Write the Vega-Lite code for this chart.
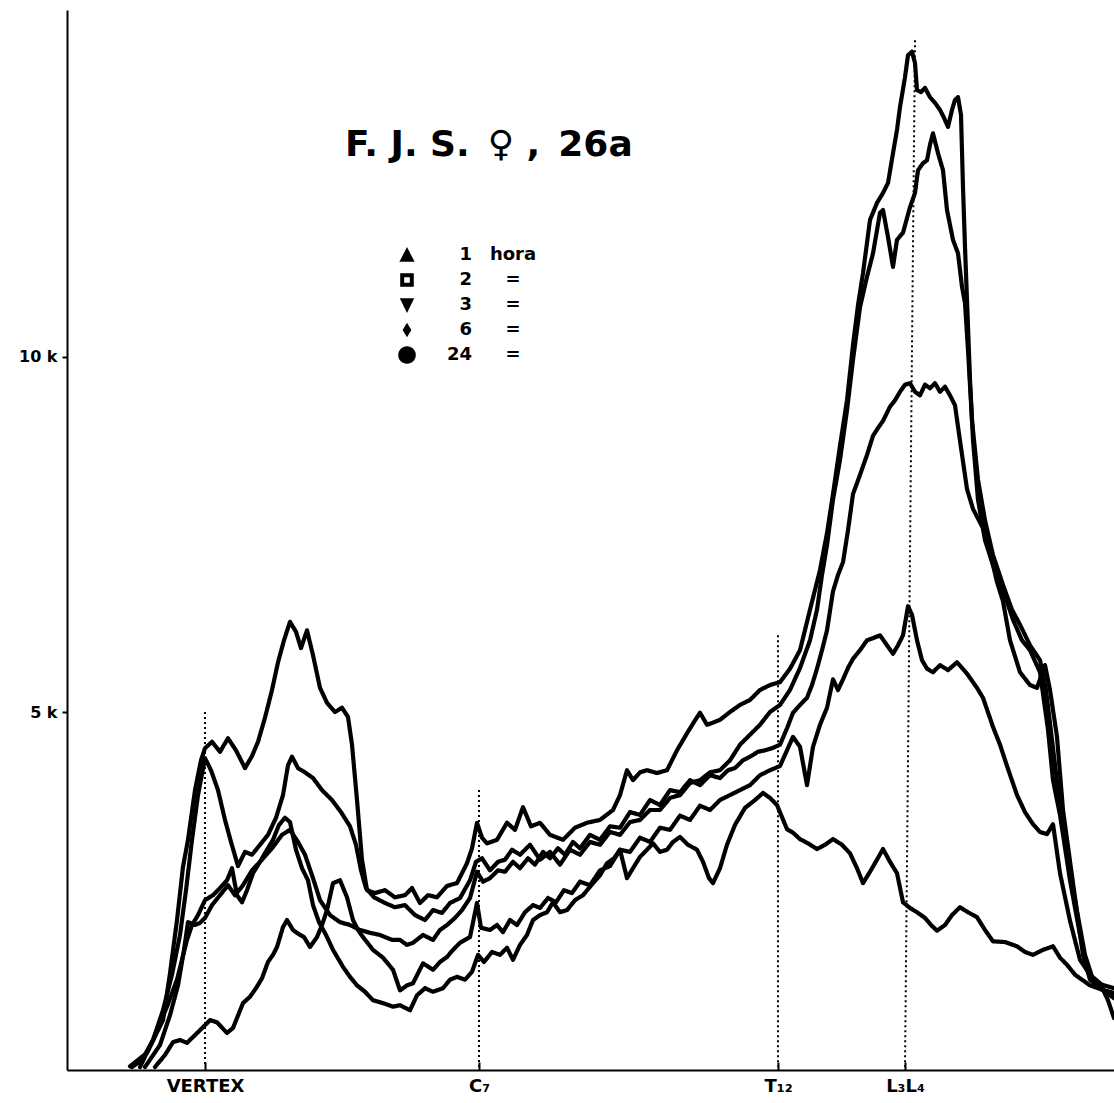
{
  "$schema": "https://vega.github.io/schema/vega-lite/v6.json",
  "width": 1047,
  "height": 1060,
  "autosize": {"type": "none"},
  "padding": {"left": 67, "top": 10, "right": 0, "bottom": 33},
  "background": "white",
  "config": {"view": {"stroke": null}, "font": "DejaVu Sans"},
  "datasets": {
    "perfiles": [
      {"hora":"6","pos":63,"k":0.01},{"hora":"6","pos":80,"k":0.20},{"hora":"6","pos":96,"k":0.66},{"hora":"6","pos":103,"k":1.32},{"hora":"6","pos":110,"k":2.07},{"hora":"6","pos":116,"k":2.82},{"hora":"6","pos":121,"k":3.20},{"hora":"6","pos":128,"k":3.90},{"hora":"6","pos":134,"k":4.32},{"hora":"6","pos":138,"k":4.49},{"hora":"6","pos":145,"k":4.58},{"hora":"6","pos":153,"k":4.44},{"hora":"6","pos":161,"k":4.63},{"hora":"6","pos":169,"k":4.46},{"hora":"6","pos":178,"k":4.21},{"hora":"6","pos":185,"k":4.38},{"hora":"6","pos":191,"k":4.58},{"hora":"6","pos":198,"k":4.92},{"hora":"6","pos":205,"k":5.31},{"hora":"6","pos":211,"k":5.70},{"hora":"6","pos":217,"k":6.01},{"hora":"6","pos":223,"k":6.27},{"hora":"6","pos":229,"k":6.13},{"hora":"6","pos":234,"k":5.90},{"hora":"6","pos":240,"k":6.15},{"hora":"6","pos":246,"k":5.80},{"hora":"6","pos":253,"k":5.34},{"hora":"6","pos":260,"k":5.13},{"hora":"6","pos":268,"k":5.00},{"hora":"6","pos":275,"k":5.06},{"hora":"6","pos":281,"k":4.93},{"hora":"6","pos":285,"k":4.54},{"hora":"6","pos":290,"k":3.76},{"hora":"6","pos":295,"k":2.92},{"hora":"6","pos":300,"k":2.49},{"hora":"6","pos":308,"k":2.45},{"hora":"6","pos":318,"k":2.49},{"hora":"6","pos":328,"k":2.39},{"hora":"6","pos":338,"k":2.42},{"hora":"6","pos":345,"k":2.52},{"hora":"6","pos":353,"k":2.31},{"hora":"6","pos":361,"k":2.42},{"hora":"6","pos":370,"k":2.39},{"hora":"6","pos":380,"k":2.55},{"hora":"6","pos":390,"k":2.59},{"hora":"6","pos":400,"k":2.87},{"hora":"6","pos":405,"k":3.08},{"hora":"6","pos":410,"k":3.44},{"hora":"6","pos":415,"k":3.23},{"hora":"6","pos":420,"k":3.15},{"hora":"6","pos":430,"k":3.20},{"hora":"6","pos":440,"k":3.44},{"hora":"6","pos":448,"k":3.34},{"hora":"6","pos":456,"k":3.66},{"hora":"6","pos":464,"k":3.39},{"hora":"6","pos":473,"k":3.44},{"hora":"6","pos":483,"k":3.27},{"hora":"6","pos":496,"k":3.20},{"hora":"6","pos":508,"k":3.37},{"hora":"6","pos":520,"k":3.44},{"hora":"6","pos":533,"k":3.48},{"hora":"6","pos":546,"k":3.62},{"hora":"6","pos":553,"k":3.83},{"hora":"6","pos":560,"k":4.18},{"hora":"6","pos":566,"k":4.04},{"hora":"6","pos":573,"k":4.15},{"hora":"6","pos":580,"k":4.18},{"hora":"6","pos":590,"k":4.14},{"hora":"6","pos":600,"k":4.18},{"hora":"6","pos":610,"k":4.46},{"hora":"6","pos":620,"k":4.70},{"hora":"6","pos":627,"k":4.86},{"hora":"6","pos":633,"k":4.99},{"hora":"6","pos":640,"k":4.82},{"hora":"6","pos":646,"k":4.85},{"hora":"6","pos":653,"k":4.89},{"hora":"6","pos":663,"k":5.00},{"hora":"6","pos":673,"k":5.10},{"hora":"6","pos":683,"k":5.17},{"hora":"6","pos":693,"k":5.31},{"hora":"6","pos":703,"k":5.38},{"hora":"6","pos":713,"k":5.42},{"hora":"6","pos":723,"k":5.61},{"hora":"6","pos":733,"k":5.87},{"hora":"6","pos":743,"k":6.44},{"hora":"6","pos":753,"k":7.00},{"hora":"6","pos":760,"k":7.52},{"hora":"6","pos":766,"k":8.07},{"hora":"6","pos":773,"k":8.75},{"hora":"6","pos":780,"k":9.39},{"hora":"6","pos":786,"k":10.17},{"hora":"6","pos":791,"k":10.73},{"hora":"6","pos":796,"k":11.18},{"hora":"6","pos":803,"k":11.93},{"hora":"6","pos":810,"k":12.17},{"hora":"6","pos":816,"k":12.31},{"hora":"6","pos":821,"k":12.45},{"hora":"6","pos":826,"k":12.87},{"hora":"6","pos":830,"k":13.20},{"hora":"6","pos":833,"k":13.52},{"hora":"6","pos":838,"k":13.94},{"hora":"6","pos":841,"k":14.25},{"hora":"6","pos":845,"k":14.30},{"hora":"6","pos":848,"k":14.14},{"hora":"6","pos":850,"k":13.76},{"hora":"6","pos":854,"k":13.73},{"hora":"6","pos":858,"k":13.79},{"hora":"6","pos":863,"k":13.66},{"hora":"6","pos":868,"k":13.58},{"hora":"6","pos":873,"k":13.48},{"hora":"6","pos":877,"k":13.37},{"hora":"6","pos":881,"k":13.24},{"hora":"6","pos":885,"k":13.48},{"hora":"6","pos":888,"k":13.62},{"hora":"6","pos":891,"k":13.66},{"hora":"6","pos":894,"k":13.41},{"hora":"6","pos":896,"k":12.39},{"hora":"6","pos":898,"k":11.55},{"hora":"6","pos":900,"k":10.80},{"hora":"6","pos":903,"k":9.68},{"hora":"6","pos":906,"k":8.83},{"hora":"6","pos":911,"k":7.99},{"hora":"6","pos":918,"k":7.42},{"hora":"6","pos":926,"k":7.07},{"hora":"6","pos":936,"k":6.72},{"hora":"6","pos":946,"k":6.30},{"hora":"6","pos":955,"k":6.01},{"hora":"6","pos":963,"k":5.87},{"hora":"6","pos":973,"k":5.56},{"hora":"6","pos":981,"k":4.75},{"hora":"6","pos":986,"k":4.04},{"hora":"6","pos":993,"k":3.55},{"hora":"6","pos":1003,"k":2.63},{"hora":"6","pos":1013,"k":1.86},{"hora":"6","pos":1020,"k":1.37},{"hora":"6","pos":1028,"k":1.20},{"hora":"6","pos":1037,"k":1.15},{"hora":"6","pos":1047,"k":1.11},

      {"hora":"3","pos":65,"k":0.0},{"hora":"3","pos":75,"k":0.10},{"hora":"3","pos":86,"k":0.38},{"hora":"3","pos":96,"k":0.80},{"hora":"3","pos":105,"k":1.30},{"hora":"3","pos":113,"k":1.86},{"hora":"3","pos":119,"k":2.49},{"hora":"3","pos":125,"k":3.20},{"hora":"3","pos":131,"k":3.83},{"hora":"3","pos":138,"k":4.35},{"hora":"3","pos":144,"k":4.18},{"hora":"3","pos":151,"k":3.90},{"hora":"3","pos":158,"k":3.48},{"hora":"3","pos":164,"k":3.17},{"hora":"3","pos":171,"k":2.83},{"hora":"3","pos":178,"k":3.03},{"hora":"3","pos":185,"k":2.99},{"hora":"3","pos":193,"k":3.13},{"hora":"3","pos":201,"k":3.27},{"hora":"3","pos":209,"k":3.51},{"hora":"3","pos":216,"k":3.83},{"hora":"3","pos":221,"k":4.25},{"hora":"3","pos":225,"k":4.37},{"hora":"3","pos":231,"k":4.21},{"hora":"3","pos":238,"k":4.15},{"hora":"3","pos":246,"k":4.07},{"hora":"3","pos":255,"k":3.90},{"hora":"3","pos":265,"k":3.76},{"hora":"3","pos":274,"k":3.59},{"hora":"3","pos":283,"k":3.39},{"hora":"3","pos":289,"k":3.13},{"hora":"3","pos":294,"k":2.77},{"hora":"3","pos":299,"k":2.52},{"hora":"3","pos":307,"k":2.39},{"hora":"3","pos":318,"k":2.31},{"hora":"3","pos":328,"k":2.25},{"hora":"3","pos":338,"k":2.28},{"hora":"3","pos":348,"k":2.14},{"hora":"3","pos":358,"k":2.07},{"hora":"3","pos":366,"k":2.21},{"hora":"3","pos":375,"k":2.17},{"hora":"3","pos":383,"k":2.31},{"hora":"3","pos":393,"k":2.38},{"hora":"3","pos":403,"k":2.63},{"hora":"3","pos":409,"k":2.89},{"hora":"3","pos":415,"k":2.94},{"hora":"3","pos":423,"k":2.77},{"hora":"3","pos":431,"k":2.89},{"hora":"3","pos":438,"k":2.92},{"hora":"3","pos":445,"k":3.06},{"hora":"3","pos":453,"k":2.99},{"hora":"3","pos":463,"k":3.13},{"hora":"3","pos":473,"k":2.92},{"hora":"3","pos":483,"k":3.03},{"hora":"3","pos":493,"k":2.85},{"hora":"3","pos":503,"k":3.06},{"hora":"3","pos":513,"k":2.99},{"hora":"3","pos":523,"k":3.17},{"hora":"3","pos":533,"k":3.13},{"hora":"3","pos":543,"k":3.31},{"hora":"3","pos":553,"k":3.27},{"hora":"3","pos":563,"k":3.45},{"hora":"3","pos":573,"k":3.48},{"hora":"3","pos":583,"k":3.62},{"hora":"3","pos":593,"k":3.62},{"hora":"3","pos":603,"k":3.79},{"hora":"3","pos":613,"k":3.83},{"hora":"3","pos":623,"k":4.00},{"hora":"3","pos":633,"k":4.04},{"hora":"3","pos":643,"k":4.15},{"hora":"3","pos":653,"k":4.18},{"hora":"3","pos":663,"k":4.32},{"hora":"3","pos":673,"k":4.54},{"hora":"3","pos":683,"k":4.68},{"hora":"3","pos":693,"k":4.82},{"hora":"3","pos":703,"k":5.00},{"hora":"3","pos":713,"k":5.10},{"hora":"3","pos":723,"k":5.31},{"hora":"3","pos":733,"k":5.62},{"hora":"3","pos":743,"k":6.01},{"hora":"3","pos":750,"k":6.44},{"hora":"3","pos":755,"k":6.93},{"hora":"3","pos":760,"k":7.35},{"hora":"3","pos":766,"k":7.99},{"hora":"3","pos":773,"k":8.55},{"hora":"3","pos":780,"k":9.25},{"hora":"3","pos":786,"k":9.96},{"hora":"3","pos":793,"k":10.70},{"hora":"3","pos":800,"k":11.13},{"hora":"3","pos":806,"k":11.46},{"hora":"3","pos":813,"k":12.03},{"hora":"3","pos":816,"k":12.07},{"hora":"3","pos":821,"k":11.69},{"hora":"3","pos":826,"k":11.27},{"hora":"3","pos":830,"k":11.65},{"hora":"3","pos":836,"k":11.75},{"hora":"3","pos":843,"k":12.11},{"hora":"3","pos":848,"k":12.31},{"hora":"3","pos":851,"k":12.63},{"hora":"3","pos":856,"k":12.73},{"hora":"3","pos":860,"k":12.77},{"hora":"3","pos":863,"k":12.99},{"hora":"3","pos":866,"k":13.15},{"hora":"3","pos":871,"k":12.87},{"hora":"3","pos":876,"k":12.63},{"hora":"3","pos":880,"k":12.07},{"hora":"3","pos":886,"k":11.65},{"hora":"3","pos":891,"k":11.46},{"hora":"3","pos":895,"k":10.99},{"hora":"3","pos":898,"k":10.76},{"hora":"3","pos":901,"k":10.10},{"hora":"3","pos":905,"k":9.11},{"hora":"3","pos":911,"k":8.27},{"hora":"3","pos":918,"k":7.70},{"hora":"3","pos":926,"k":7.21},{"hora":"3","pos":936,"k":6.79},{"hora":"3","pos":945,"k":6.44},{"hora":"3","pos":953,"k":6.23},{"hora":"3","pos":963,"k":5.94},{"hora":"3","pos":973,"k":5.73},{"hora":"3","pos":979,"k":5.31},{"hora":"3","pos":985,"k":4.61},{"hora":"3","pos":991,"k":3.90},{"hora":"3","pos":998,"k":3.20},{"hora":"3","pos":1008,"k":2.35},{"hora":"3","pos":1018,"k":1.58},{"hora":"3","pos":1026,"k":1.23},{"hora":"3","pos":1037,"k":1.08},{"hora":"3","pos":1047,"k":1.04},

      {"hora":"2","pos":78,"k":0.0},{"hora":"2","pos":93,"k":0.31},{"hora":"2","pos":103,"k":0.73},{"hora":"2","pos":111,"k":1.15},{"hora":"2","pos":117,"k":1.65},{"hora":"2","pos":121,"k":2.04},{"hora":"2","pos":128,"k":2.00},{"hora":"2","pos":133,"k":2.03},{"hora":"2","pos":138,"k":2.10},{"hora":"2","pos":145,"k":2.28},{"hora":"2","pos":153,"k":2.42},{"hora":"2","pos":161,"k":2.56},{"hora":"2","pos":168,"k":2.42},{"hora":"2","pos":176,"k":2.56},{"hora":"2","pos":185,"k":2.77},{"hora":"2","pos":195,"k":2.92},{"hora":"2","pos":205,"k":3.08},{"hora":"2","pos":215,"k":3.27},{"hora":"2","pos":223,"k":3.34},{"hora":"2","pos":231,"k":3.17},{"hora":"2","pos":238,"k":2.99},{"hora":"2","pos":246,"k":2.66},{"hora":"2","pos":253,"k":2.35},{"hora":"2","pos":263,"k":2.14},{"hora":"2","pos":273,"k":2.04},{"hora":"2","pos":283,"k":2.00},{"hora":"2","pos":293,"k":1.93},{"hora":"2","pos":303,"k":1.89},{"hora":"2","pos":313,"k":1.86},{"hora":"2","pos":325,"k":1.79},{"hora":"2","pos":333,"k":1.79},{"hora":"2","pos":340,"k":1.72},{"hora":"2","pos":346,"k":1.75},{"hora":"2","pos":356,"k":1.86},{"hora":"2","pos":366,"k":1.79},{"hora":"2","pos":373,"k":1.93},{"hora":"2","pos":380,"k":2.00},{"hora":"2","pos":388,"k":2.10},{"hora":"2","pos":395,"k":2.21},{"hora":"2","pos":403,"k":2.38},{"hora":"2","pos":410,"k":2.75},{"hora":"2","pos":416,"k":2.61},{"hora":"2","pos":423,"k":2.66},{"hora":"2","pos":431,"k":2.77},{"hora":"2","pos":438,"k":2.75},{"hora":"2","pos":446,"k":2.89},{"hora":"2","pos":453,"k":2.80},{"hora":"2","pos":461,"k":2.94},{"hora":"2","pos":468,"k":2.85},{"hora":"2","pos":476,"k":3.03},{"hora":"2","pos":483,"k":2.94},{"hora":"2","pos":491,"k":3.08},{"hora":"2","pos":498,"k":2.99},{"hora":"2","pos":506,"k":3.17},{"hora":"2","pos":513,"k":3.08},{"hora":"2","pos":523,"k":3.27},{"hora":"2","pos":533,"k":3.20},{"hora":"2","pos":543,"k":3.39},{"hora":"2","pos":553,"k":3.37},{"hora":"2","pos":563,"k":3.59},{"hora":"2","pos":573,"k":3.55},{"hora":"2","pos":583,"k":3.76},{"hora":"2","pos":593,"k":3.69},{"hora":"2","pos":603,"k":3.90},{"hora":"2","pos":613,"k":3.87},{"hora":"2","pos":623,"k":4.04},{"hora":"2","pos":633,"k":3.97},{"hora":"2","pos":643,"k":4.11},{"hora":"2","pos":653,"k":4.07},{"hora":"2","pos":661,"k":4.18},{"hora":"2","pos":668,"k":4.21},{"hora":"2","pos":676,"k":4.32},{"hora":"2","pos":683,"k":4.37},{"hora":"2","pos":691,"k":4.44},{"hora":"2","pos":698,"k":4.46},{"hora":"2","pos":705,"k":4.49},{"hora":"2","pos":713,"k":4.54},{"hora":"2","pos":720,"k":4.77},{"hora":"2","pos":726,"k":4.99},{"hora":"2","pos":733,"k":5.10},{"hora":"2","pos":740,"k":5.20},{"hora":"2","pos":745,"k":5.38},{"hora":"2","pos":750,"k":5.61},{"hora":"2","pos":755,"k":5.87},{"hora":"2","pos":760,"k":6.15},{"hora":"2","pos":766,"k":6.70},{"hora":"2","pos":771,"k":6.93},{"hora":"2","pos":776,"k":7.11},{"hora":"2","pos":781,"k":7.56},{"hora":"2","pos":786,"k":8.07},{"hora":"2","pos":793,"k":8.34},{"hora":"2","pos":800,"k":8.62},{"hora":"2","pos":806,"k":8.89},{"hora":"2","pos":811,"k":9.00},{"hora":"2","pos":816,"k":9.10},{"hora":"2","pos":823,"k":9.30},{"hora":"2","pos":828,"k":9.39},{"hora":"2","pos":833,"k":9.51},{"hora":"2","pos":838,"k":9.61},{"hora":"2","pos":843,"k":9.63},{"hora":"2","pos":848,"k":9.51},{"hora":"2","pos":853,"k":9.46},{"hora":"2","pos":858,"k":9.61},{"hora":"2","pos":863,"k":9.56},{"hora":"2","pos":868,"k":9.63},{"hora":"2","pos":873,"k":9.51},{"hora":"2","pos":878,"k":9.58},{"hora":"2","pos":883,"k":9.46},{"hora":"2","pos":888,"k":9.32},{"hora":"2","pos":893,"k":8.82},{"hora":"2","pos":900,"k":8.14},{"hora":"2","pos":906,"k":7.86},{"hora":"2","pos":916,"k":7.59},{"hora":"2","pos":923,"k":7.25},{"hora":"2","pos":930,"k":6.83},{"hora":"2","pos":936,"k":6.56},{"hora":"2","pos":943,"k":6.01},{"hora":"2","pos":953,"k":5.56},{"hora":"2","pos":963,"k":5.38},{"hora":"2","pos":970,"k":5.34},{"hora":"2","pos":978,"k":5.66},{"hora":"2","pos":983,"k":5.31},{"hora":"2","pos":990,"k":4.65},{"hora":"2","pos":996,"k":3.62},{"hora":"2","pos":1006,"k":2.59},{"hora":"2","pos":1016,"k":1.58},{"hora":"2","pos":1023,"k":1.23},{"hora":"2","pos":1033,"k":1.11},{"hora":"2","pos":1047,"k":0.97},

      {"hora":"1","pos":73,"k":0.0},{"hora":"1","pos":86,"k":0.38},{"hora":"1","pos":100,"k":0.85},{"hora":"1","pos":110,"k":1.23},{"hora":"1","pos":120,"k":1.79},{"hora":"1","pos":125,"k":2.00},{"hora":"1","pos":131,"k":2.14},{"hora":"1","pos":138,"k":2.35},{"hora":"1","pos":146,"k":2.42},{"hora":"1","pos":153,"k":2.52},{"hora":"1","pos":160,"k":2.63},{"hora":"1","pos":165,"k":2.80},{"hora":"1","pos":170,"k":2.42},{"hora":"1","pos":175,"k":2.32},{"hora":"1","pos":180,"k":2.49},{"hora":"1","pos":186,"k":2.73},{"hora":"1","pos":193,"k":2.89},{"hora":"1","pos":200,"k":3.06},{"hora":"1","pos":206,"k":3.20},{"hora":"1","pos":212,"k":3.41},{"hora":"1","pos":218,"k":3.51},{"hora":"1","pos":223,"k":3.45},{"hora":"1","pos":229,"k":3.06},{"hora":"1","pos":235,"k":2.80},{"hora":"1","pos":241,"k":2.63},{"hora":"1","pos":246,"k":2.28},{"hora":"1","pos":252,"k":2.04},{"hora":"1","pos":259,"k":1.86},{"hora":"1","pos":266,"k":1.65},{"hora":"1","pos":276,"k":1.41},{"hora":"1","pos":283,"k":1.27},{"hora":"1","pos":290,"k":1.15},{"hora":"1","pos":298,"k":1.06},{"hora":"1","pos":306,"k":0.94},{"hora":"1","pos":316,"k":0.90},{"hora":"1","pos":326,"k":0.85},{"hora":"1","pos":333,"k":0.87},{"hora":"1","pos":343,"k":0.80},{"hora":"1","pos":350,"k":1.01},{"hora":"1","pos":358,"k":1.11},{"hora":"1","pos":366,"k":1.06},{"hora":"1","pos":376,"k":1.11},{"hora":"1","pos":383,"k":1.23},{"hora":"1","pos":390,"k":1.27},{"hora":"1","pos":398,"k":1.23},{"hora":"1","pos":405,"k":1.34},{"hora":"1","pos":411,"k":1.58},{"hora":"1","pos":417,"k":1.48},{"hora":"1","pos":425,"k":1.62},{"hora":"1","pos":433,"k":1.58},{"hora":"1","pos":440,"k":1.68},{"hora":"1","pos":446,"k":1.51},{"hora":"1","pos":453,"k":1.72},{"hora":"1","pos":460,"k":1.86},{"hora":"1","pos":466,"k":2.07},{"hora":"1","pos":473,"k":2.14},{"hora":"1","pos":480,"k":2.18},{"hora":"1","pos":486,"k":2.32},{"hora":"1","pos":493,"k":2.18},{"hora":"1","pos":500,"k":2.21},{"hora":"1","pos":508,"k":2.35},{"hora":"1","pos":516,"k":2.42},{"hora":"1","pos":526,"k":2.59},{"hora":"1","pos":533,"k":2.70},{"hora":"1","pos":540,"k":2.87},{"hora":"1","pos":547,"k":2.94},{"hora":"1","pos":553,"k":3.06},{"hora":"1","pos":560,"k":2.66},{"hora":"1","pos":566,"k":2.80},{"hora":"1","pos":573,"k":2.96},{"hora":"1","pos":580,"k":3.06},{"hora":"1","pos":586,"k":3.15},{"hora":"1","pos":593,"k":3.03},{"hora":"1","pos":600,"k":3.06},{"hora":"1","pos":606,"k":3.17},{"hora":"1","pos":613,"k":3.24},{"hora":"1","pos":621,"k":3.13},{"hora":"1","pos":630,"k":3.06},{"hora":"1","pos":636,"k":2.89},{"hora":"1","pos":642,"k":2.66},{"hora":"1","pos":646,"k":2.59},{"hora":"1","pos":653,"k":2.80},{"hora":"1","pos":660,"k":3.13},{"hora":"1","pos":668,"k":3.41},{"hora":"1","pos":678,"k":3.65},{"hora":"1","pos":688,"k":3.76},{"hora":"1","pos":696,"k":3.86},{"hora":"1","pos":703,"k":3.79},{"hora":"1","pos":710,"k":3.69},{"hora":"1","pos":720,"k":3.35},{"hora":"1","pos":726,"k":3.30},{"hora":"1","pos":733,"k":3.21},{"hora":"1","pos":741,"k":3.15},{"hora":"1","pos":750,"k":3.07},{"hora":"1","pos":758,"k":3.13},{"hora":"1","pos":766,"k":3.21},{"hora":"1","pos":775,"k":3.13},{"hora":"1","pos":783,"k":3.01},{"hora":"1","pos":790,"k":2.80},{"hora":"1","pos":796,"k":2.59},{"hora":"1","pos":803,"k":2.75},{"hora":"1","pos":810,"k":2.92},{"hora":"1","pos":816,"k":3.07},{"hora":"1","pos":823,"k":2.89},{"hora":"1","pos":830,"k":2.73},{"hora":"1","pos":836,"k":2.32},{"hora":"1","pos":843,"k":2.24},{"hora":"1","pos":850,"k":2.18},{"hora":"1","pos":858,"k":2.10},{"hora":"1","pos":864,"k":2.00},{"hora":"1","pos":870,"k":1.92},{"hora":"1","pos":878,"k":2.00},{"hora":"1","pos":885,"k":2.14},{"hora":"1","pos":893,"k":2.25},{"hora":"1","pos":901,"k":2.18},{"hora":"1","pos":910,"k":2.11},{"hora":"1","pos":918,"k":1.93},{"hora":"1","pos":926,"k":1.77},{"hora":"1","pos":938,"k":1.76},{"hora":"1","pos":950,"k":1.70},{"hora":"1","pos":958,"k":1.62},{"hora":"1","pos":966,"k":1.58},{"hora":"1","pos":976,"k":1.65},{"hora":"1","pos":986,"k":1.70},{"hora":"1","pos":993,"k":1.54},{"hora":"1","pos":1000,"k":1.44},{"hora":"1","pos":1008,"k":1.30},{"hora":"1","pos":1015,"k":1.23},{"hora":"1","pos":1023,"k":1.15},{"hora":"1","pos":1033,"k":1.10},{"hora":"1","pos":1047,"k":1.03},

      {"hora":"24","pos":88,"k":0.0},{"hora":"24","pos":98,"k":0.17},{"hora":"24","pos":106,"k":0.35},{"hora":"24","pos":113,"k":0.38},{"hora":"24","pos":120,"k":0.34},{"hora":"24","pos":128,"k":0.45},{"hora":"24","pos":136,"k":0.56},{"hora":"24","pos":143,"k":0.66},{"hora":"24","pos":150,"k":0.63},{"hora":"24","pos":160,"k":0.48},{"hora":"24","pos":166,"k":0.55},{"hora":"24","pos":170,"k":0.69},{"hora":"24","pos":176,"k":0.90},{"hora":"24","pos":183,"k":0.99},{"hora":"24","pos":189,"k":1.11},{"hora":"24","pos":195,"k":1.25},{"hora":"24","pos":201,"k":1.48},{"hora":"24","pos":206,"k":1.58},{"hora":"24","pos":210,"k":1.69},{"hora":"24","pos":216,"k":1.97},{"hora":"24","pos":220,"k":2.07},{"hora":"24","pos":226,"k":1.93},{"hora":"24","pos":232,"k":1.87},{"hora":"24","pos":237,"k":1.83},{"hora":"24","pos":243,"k":1.69},{"hora":"24","pos":250,"k":1.83},{"hora":"24","pos":255,"k":2.00},{"hora":"24","pos":260,"k":2.21},{"hora":"24","pos":266,"k":2.59},{"hora":"24","pos":273,"k":2.63},{"hora":"24","pos":280,"k":2.39},{"hora":"24","pos":286,"k":2.07},{"hora":"24","pos":291,"k":1.93},{"hora":"24","pos":296,"k":1.83},{"hora":"24","pos":306,"k":1.65},{"hora":"24","pos":316,"k":1.54},{"hora":"24","pos":326,"k":1.37},{"hora":"24","pos":333,"k":1.08},{"hora":"24","pos":340,"k":1.15},{"hora":"24","pos":346,"k":1.18},{"hora":"24","pos":356,"k":1.46},{"hora":"24","pos":366,"k":1.37},{"hora":"24","pos":373,"k":1.48},{"hora":"24","pos":380,"k":1.55},{"hora":"24","pos":386,"k":1.65},{"hora":"24","pos":393,"k":1.75},{"hora":"24","pos":403,"k":1.83},{"hora":"24","pos":410,"k":2.31},{"hora":"24","pos":414,"k":1.96},{"hora":"24","pos":423,"k":1.93},{"hora":"24","pos":430,"k":2.00},{"hora":"24","pos":436,"k":1.90},{"hora":"24","pos":443,"k":2.07},{"hora":"24","pos":450,"k":2.00},{"hora":"24","pos":458,"k":2.18},{"hora":"24","pos":466,"k":2.28},{"hora":"24","pos":473,"k":2.24},{"hora":"24","pos":481,"k":2.38},{"hora":"24","pos":489,"k":2.32},{"hora":"24","pos":497,"k":2.49},{"hora":"24","pos":505,"k":2.45},{"hora":"24","pos":513,"k":2.61},{"hora":"24","pos":523,"k":2.56},{"hora":"24","pos":533,"k":2.77},{"hora":"24","pos":543,"k":2.83},{"hora":"24","pos":553,"k":3.06},{"hora":"24","pos":563,"k":3.03},{"hora":"24","pos":573,"k":3.23},{"hora":"24","pos":583,"k":3.17},{"hora":"24","pos":593,"k":3.37},{"hora":"24","pos":603,"k":3.34},{"hora":"24","pos":613,"k":3.54},{"hora":"24","pos":623,"k":3.48},{"hora":"24","pos":633,"k":3.68},{"hora":"24","pos":643,"k":3.62},{"hora":"24","pos":653,"k":3.76},{"hora":"24","pos":663,"k":3.83},{"hora":"24","pos":673,"k":3.90},{"hora":"24","pos":683,"k":3.97},{"hora":"24","pos":693,"k":4.11},{"hora":"24","pos":703,"k":4.18},{"hora":"24","pos":713,"k":4.24},{"hora":"24","pos":720,"k":4.46},{"hora":"24","pos":726,"k":4.65},{"hora":"24","pos":733,"k":4.51},{"hora":"24","pos":740,"k":3.97},{"hora":"24","pos":746,"k":4.51},{"hora":"24","pos":753,"k":4.82},{"hora":"24","pos":760,"k":5.06},{"hora":"24","pos":766,"k":5.46},{"hora":"24","pos":771,"k":5.31},{"hora":"24","pos":776,"k":5.46},{"hora":"24","pos":781,"k":5.62},{"hora":"24","pos":786,"k":5.75},{"hora":"24","pos":793,"k":5.87},{"hora":"24","pos":800,"k":6.01},{"hora":"24","pos":806,"k":6.04},{"hora":"24","pos":813,"k":6.08},{"hora":"24","pos":820,"k":5.94},{"hora":"24","pos":826,"k":5.82},{"hora":"24","pos":831,"k":5.94},{"hora":"24","pos":836,"k":6.08},{"hora":"24","pos":841,"k":6.49},{"hora":"24","pos":845,"k":6.37},{"hora":"24","pos":850,"k":6.01},{"hora":"24","pos":855,"k":5.73},{"hora":"24","pos":860,"k":5.61},{"hora":"24","pos":866,"k":5.56},{"hora":"24","pos":873,"k":5.66},{"hora":"24","pos":881,"k":5.59},{"hora":"24","pos":890,"k":5.70},{"hora":"24","pos":895,"k":5.62},{"hora":"24","pos":900,"k":5.54},{"hora":"24","pos":910,"k":5.34},{"hora":"24","pos":916,"k":5.20},{"hora":"24","pos":926,"k":4.79},{"hora":"24","pos":933,"k":4.54},{"hora":"24","pos":940,"k":4.24},{"hora":"24","pos":950,"k":3.83},{"hora":"24","pos":958,"k":3.59},{"hora":"24","pos":966,"k":3.42},{"hora":"24","pos":973,"k":3.31},{"hora":"24","pos":980,"k":3.28},{"hora":"24","pos":986,"k":3.42},{"hora":"24","pos":993,"k":2.73},{"hora":"24","pos":1003,"k":2.06},{"hora":"24","pos":1013,"k":1.51},{"hora":"24","pos":1023,"k":1.30},{"hora":"24","pos":1033,"k":1.18},{"hora":"24","pos":1041,"k":0.94},{"hora":"24","pos":1047,"k":0.69}
    ],
    "marcas": [
      {"nivel": "VERTEX", "pos": 138, "pos_base": 138, "k": 5.0},
      {"nivel": "C7", "pos": 412, "pos_base": 412, "k": 3.9},
      {"nivel": "T12", "pos": 711, "pos_base": 711, "k": 6.08},
      {"nivel": "L3L4", "pos": 848, "pos_base": 838, "k": 14.46}
    ]
  },
  "layer": [
    {
      "data": {"name": "marcas"},
      "mark": {"type": "rule", "color": "black", "strokeWidth": 2, "strokeDash": [2, 3]},
      "encoding": {
        "x": {"field": "pos", "type": "quantitative", "scale": {"domain": [0, 1047], "nice": false, "zero": false}},
        "x2": {"field": "pos_base"},
        "y": {"field": "k", "type": "quantitative", "scale": {"domain": [-0.042, 14.887], "nice": false, "zero": false}},
        "y2": {"datum": 0}
      }
    },
    {
      "data": {"name": "perfiles"},
      "mark": {"type": "line", "color": "black", "strokeWidth": 4.2, "strokeJoin": "round", "strokeCap": "round"},
      "encoding": {
        "x": {
          "field": "pos", "type": "quantitative",
          "scale": {"domain": [0, 1047], "nice": false, "zero": false},
          "axis": {
            "values": [138, 412, 711, 838],
            "labelExpr": "datum.value == 138 ? 'VERTEX' : datum.value == 412 ? 'C₇' : datum.value == 711 ? 'T₁₂' : 'L₃L₄'",
            "labelFont": "DejaVu Sans", "labelFontWeight": "bold", "labelFontSize": 18, "labelColor": "black",
            "labelPadding": 15, "tickSize": -8, "tickWidth": 2, "tickColor": "black",
            "domainColor": "black", "domainWidth": 2, "grid": false, "title": null
          }
        },
        "y": {
          "field": "k", "type": "quantitative",
          "scale": {"domain": [-0.042, 14.887], "nice": false, "zero": false},
          "axis": {
            "values": [5, 10],
            "labelExpr": "datum.value + ' k'",
            "labelFont": "DejaVu Sans", "labelFontWeight": "bold", "labelFontSize": 16, "labelColor": "black",
            "labelPadding": 5, "tickSize": 5, "tickWidth": 2, "tickColor": "black",
            "domainColor": "black", "domainWidth": 2, "grid": false, "title": null
          }
        },
        "strokeDash": {
          "field": "hora", "type": "nominal",
          "sort": ["1", "2", "3", "6", "24"],
          "scale": {"range": [[1, 0], [1, 0], [1, 0], [1, 0], [1, 0]]},
          "legend": {
            "orient": "none", "legendX": 428, "legendY": 236, "title": null, "padding": 0,
            "direction": "vertical",
            "labelFont": "DejaVu Sans", "labelFontWeight": "bold", "labelFontSize": 18, "labelColor": "black",
            "labelAlign": "center", "labelOffset": 0, "rowPadding": 7,
            "symbolSize": 0, "symbolOpacity": 0, "symbolStrokeWidth": 0,
            "labelExpr": "datum.label === '1' ? 'hora' : '='"
          }
        },
        "order": {"field": "pos", "type": "quantitative"}
      }
    },
    {
      "data": {"name": "perfiles"},
      "mark": {"type": "point", "filled": true, "color": "black", "opacity": 0},
      "encoding": {
        "x": {"field": "pos", "type": "quantitative", "scale": {"domain": [0, 1047], "nice": false, "zero": false}},
        "y": {"field": "k", "type": "quantitative", "scale": {"domain": [-0.042, 14.887], "nice": false, "zero": false}},
        "shape": {
          "field": "hora", "type": "nominal",
          "sort": ["1", "2", "3", "6", "24"],
          "scale": {
            "domain": ["1", "2", "3", "6", "24"],
            "range": [
              "M0,-1L0.95,0.85L-0.95,0.85Z",
              "M-0.85,-0.85H0.85V0.85H-0.85Z M-0.35,-0.35V0.35H0.35V-0.35Z",
              "M-0.9,-0.85L0.9,-0.85L0,1Z",
              "M0,-0.9L0.55,0L0,0.9L-0.55,0Z",
              "M-1.1,0A1.1,1.1 0 1,1 1.1,0A1.1,1.1 0 1,1 -1.1,0Z"
            ]
          },
          "legend": {
            "orient": "none", "legendX": 331, "legendY": 236, "title": null, "padding": 0,
            "direction": "vertical",
            "labelFont": "DejaVu Sans", "labelFontWeight": "bold", "labelFontSize": 18, "labelColor": "black",
            "labelAlign": "right", "labelOffset": 56, "rowPadding": 7,
            "symbolSize": 256, "symbolStrokeWidth": 0, "symbolOpacity": 1, "symbolFillColor": "black"
          }
        }
      }
    },
    {
      "data": {"values": [{"rotulo": "F. J. S.\u2002♀ ,\u200226a"}]},
      "mark": {"type": "text", "align": "left", "baseline": "middle", "font": "DejaVu Sans", "fontWeight": "bold", "fontSize": 36, "color": "black"},
      "encoding": {
        "x": {"datum": 278, "type": "quantitative", "scale": {"domain": [0, 1047], "nice": false, "zero": false}},
        "y": {"datum": 12.99, "type": "quantitative", "scale": {"domain": [-0.042, 14.887], "nice": false, "zero": false}},
        "text": {"field": "rotulo"}
      }
    }
  ]
}
